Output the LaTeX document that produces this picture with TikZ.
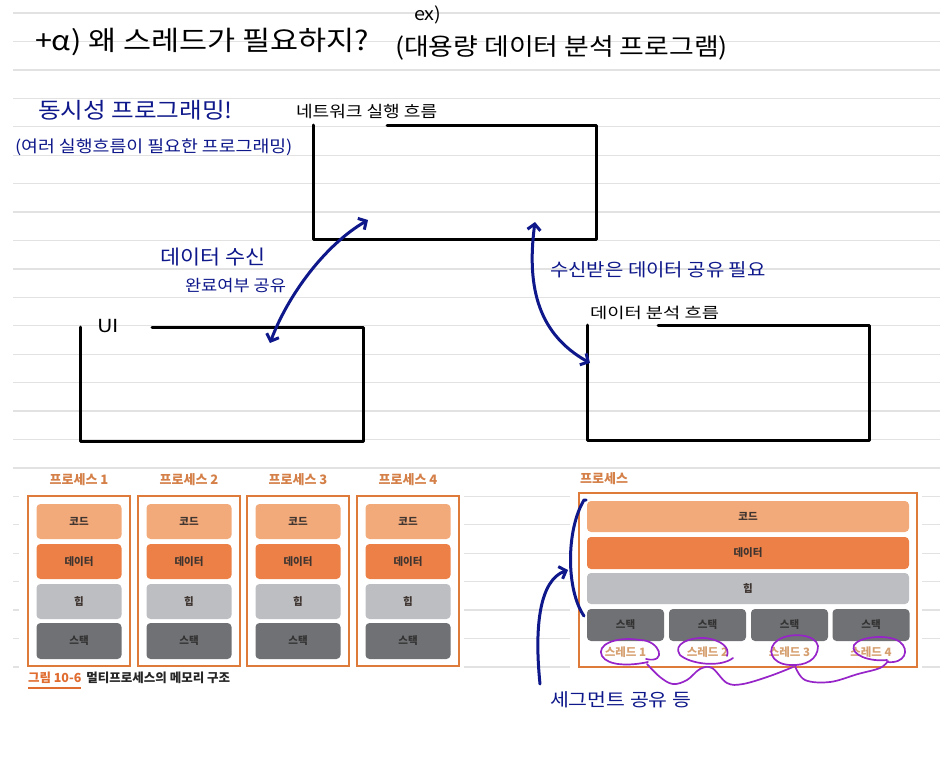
\documentclass[tikz,border=0pt]{standalone}
\usepackage{graphicx}
\usepackage{fontspec}
\setmainfont{Noto Sans CJK KR}
\usetikzlibrary{arrows.meta,calc}
\definecolor{navy}{RGB}{14,24,138}
\definecolor{purp}{RGB}{150,36,200}
\definecolor{ruled}{RGB}{226,226,226}
\definecolor{orbord}{RGB}{222,122,58}
\definecolor{codec}{RGB}{243,170,122}
\definecolor{datac}{RGB}{236,128,70}
\definecolor{heapc}{RGB}{189,190,193}
\definecolor{stackc}{RGB}{112,113,116}
\definecolor{titc}{RGB}{212,128,72}
\definecolor{thrc}{RGB}{214,160,112}
\definecolor{blktxt}{RGB}{62,52,48}
\definecolor{capor}{RGB}{224,108,48}
\newcommand{\hwide}[2]{\scalebox{#1}[1]{#2}}
\begin{document}
\begin{tikzpicture}[x=1pt,y=-1pt,
  hw/.style={anchor=west, inner sep=0pt, outer sep=0pt},
  frame/.style={rectangle, draw=none, inner sep=0pt, outer sep=0pt},
  frameline/.style={draw=black, line width=3pt, line cap=round, line join=round},
  ruledline/.style={draw=ruled, line width=1.3pt},
  harrow/.style={draw=navy, line width=3pt, line cap=round, line join=round},
  purpline/.style={draw=purp, line width=1.7pt, line cap=round},
  pbox/.style={rectangle, draw=orbord, line width=2pt, inner sep=0pt},
  blk/.style={rectangle, rounded corners=4pt, inner sep=0pt, text=blktxt,
    font=\bfseries\fontsize{10.5}{12}\selectfont},
  ftitle/.style={text=titc, inner sep=0pt, font=\bfseries\fontsize{13}{15}\selectfont},
  thr/.style={text=thrc, inner sep=0pt, font=\bfseries\fontsize{11.5}{13}\selectfont},
  >={Straight Barb[length=6pt,width=13pt]}
]
\useasboundingbox (0,0) rectangle (940,768);
\fill[white] (0,0) rectangle (940,768);

% notebook ruling
\foreach \i in {0,...,23} {
  \draw[ruledline] (13,{13+28.43*\i}) -- (940,{13+28.43*\i});
}

% heading
\node[hw, font=\fontsize{27}{30}\selectfont] (q) at (35,42) {\hwide{1.13}{+α) 왜 스레드가 필요하지?}};
\node[hw, font=\fontsize{18}{20}\selectfont] (ex) at (414,15) {\hwide{1.1}{ex)}};
\node[hw, font=\fontsize{24}{26}\selectfont] (ex2) at (395,48) {\hwide{1.12}{(대용량 데이터 분석 프로그램)}};
\node[hw, text=navy, font=\fontsize{22}{24}\selectfont] (conc) at (38,110) {\hwide{1.12}{동시성 프로그래밍!}};
\node[hw, text=navy, font=\fontsize{16.5}{18}\selectfont] (conc2) at (15,147) {\hwide{1.11}{(여러 실행흐름이 필요한 프로그래밍)}};

% boxes
\node[frame, minimum width=283pt, minimum height=114pt] (net) at (454.5,182) {};
\draw[frameline] ([xshift=74pt]net.north west) -- (net.north east) -- (net.south east) -- (net.south west) -- (net.north west);
\node[hw, font=\fontsize{16}{18}\selectfont] (netl) at (296,112) {\hwide{1.13}{네트워크 실행 흐름}};

\node[frame, minimum width=283pt, minimum height=114pt] (ui) at (221.5,384) {};
\draw[frameline] ([xshift=72pt]ui.north west) -- (ui.north east) -- (ui.south east) -- (ui.south west) -- (ui.north west);
\node[hw, font=\fontsize{18}{20}\selectfont] (uil) at (97,326) {\hwide{1.2}{UI}};

\node[frame, minimum width=282pt, minimum height=115pt] (ana) at (728,382.5) {};
\draw[frameline] ([xshift=71pt]ana.north west) -- (ana.north east) -- (ana.south east) -- (ana.south west) -- (ana.north west);
\node[hw, font=\fontsize{15}{17}\selectfont] (anl) at (590,313) {\hwide{1.25}{데이터 분석 흐름}};

% blue notes
\node[hw, text=navy, font=\fontsize{20}{22}\selectfont] (t1) at (160,257) {\hwide{1.09}{데이터 수신}};
\node[hw, text=navy, font=\fontsize{16}{18}\selectfont] (t2) at (185,286) {\hwide{1.1}{완료여부 공유}};
\node[hw, text=navy, font=\fontsize{18}{20}\selectfont] (t3) at (550,270) {\hwide{1.11}{수신받은 데이터 공유 필요}};

% arrows between boxes
\coordinate (a1s) at (270,343);
\coordinate (a1e) at (368,220);
\draw[harrow,<->] (a1s) .. controls (288,295) and (325,245) .. (a1e);
\coordinate (a2s) at (535,222);
\coordinate (a2e) at (590,363);
\draw[harrow,<->] (a2s) .. controls (526,290) and (540,335) .. (a2e);

% ---------- left figure ----------
\fill[white] (19,471) rectangle (464,696);
\foreach \i/\x in {1/28,2/138,3/247,4/357} {
  \node[ftitle] (pt\i) at (\x+51,480) {프로세스 \i};
  \node[pbox, minimum width=102pt, minimum height=170pt] (p\i) at (\x+51,581) {};
  \node[blk, fill=codec, minimum width=85pt, minimum height=35pt] (c\i) at (\x+51,521.5) {코드};
  \node[blk, fill=datac, minimum width=85pt, minimum height=35pt] (d\i) at (\x+51,561.5) {데이터};
  \node[blk, fill=heapc, minimum width=85pt, minimum height=35pt] (h\i) at (\x+51,601.5) {힙};
  \node[blk, fill=stackc, text={black!80}, minimum width=85pt, minimum height=36pt] (s\i) at (\x+51,641) {스택};
}
\node[hw, text=capor, font=\bfseries\fontsize{12.5}{14}\selectfont] (cap1) at (28,678) {그림 10-6};
\node[hw, text=black!85, font=\bfseries\fontsize{12.5}{14}\selectfont] (cap2) at ([xshift=5pt]cap1.east) {멀티프로세스의 메모리 구조};
\draw[draw=capor, line width=2pt] ([yshift=-4pt]cap1.south west) -- ([yshift=-4pt]cap1.south east);

% ---------- right figure ----------
\fill[white] (570,471) rectangle (922,692);
\node[ftitle, anchor=west] (rt) at (580,479) {프로세스};
\node[pbox, minimum width=338pt, minimum height=174pt] (rp) at (748,580) {};
\node[blk, fill=codec, minimum width=322pt, minimum height=31pt] (rc) at (748,516.5) {코드};
\node[blk, fill=datac, minimum width=322pt, minimum height=32pt] (rd) at (748,553) {데이터};
\node[blk, fill=heapc, minimum width=322pt, minimum height=31pt] (rh) at (748,588.5) {힙};
\foreach \i/\x in {1/625.5,2/707.5,3/789.5,4/871} {
  \node[blk, fill=stackc, text={black!80}, minimum width=77pt, minimum height=32pt] (rs\i) at (\x,625) {스택};
  \node[thr] (th\i) at (\x,652) {스레드 \i};
}

% purple annotations
\draw[purpline] (646,659) .. controls (668,664) and (660,640) .. (640,640) .. controls (615,636) and (596,645) .. (602,656) .. controls (608,666) and (630,666) .. (648,662);
\draw[purpline] (733,658) .. controls (720,668) and (690,664) .. (680,655) .. controls (672,644) and (690,637) .. (705,638) .. controls (722,640) and (730,648) .. (727,656);
\draw[purpline] (818,646) .. controls (816,634) and (790,632) .. (778,640) .. controls (766,648) and (770,664) .. (790,665) .. controls (805,666) and (818,660) .. (818,646);
\draw[purpline] (887,662) .. controls (905,664) and (910,650) .. (900,642) .. controls (890,634) and (860,636) .. (854,645) .. controls (850,655) and (870,662) .. (887,660);
\draw[purpline] plot[smooth, tension=0.6] coordinates {(647,664) (660,677) (673,684) (687,680) (700,669) (712,668) (727,683) (743,684) (770,676) (793,667)};
\draw[purpline] plot[smooth, tension=0.6] coordinates {(795,666) (805,680) (830,682) (858,674) (880,668) (888,661)};

% blue bracket and arrow
\coordinate (bt) at (584,500);
\coordinate (bb) at (584,616);
\draw[harrow] ([xshift=2pt]bt) -- (bt) .. controls (566,530) and (566,590) .. (bb);
\node[hw, text=navy, font=\fontsize{18}{20}\selectfont] (t4) at (550,700) {\hwide{1.14}{세그먼트 공유 등}};
\coordinate (a3s) at (540,684);
\coordinate (a3e) at (568,570);
\draw[harrow,->] (a3s) .. controls (534,625) and (540,580) .. (a3e);
\end{tikzpicture}
\end{document}
